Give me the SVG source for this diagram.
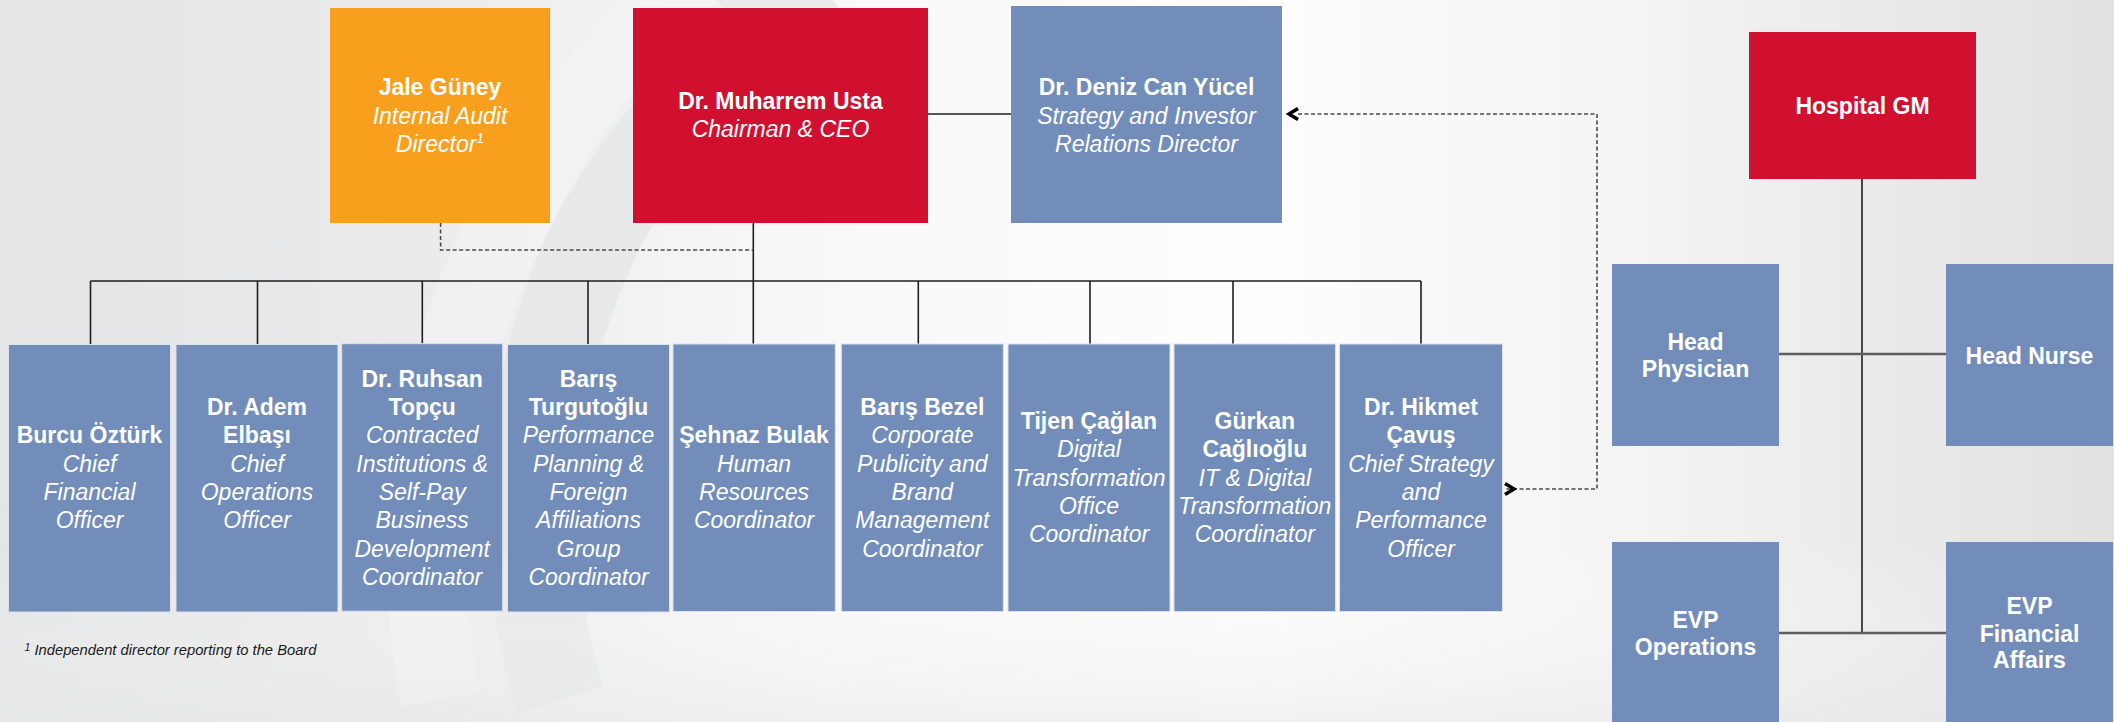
<svg xmlns="http://www.w3.org/2000/svg" width="2114" height="722" viewBox="0 0 2114 722">
  <defs>
    <linearGradient id="bg" x1="0" y1="0" x2="1" y2="0">
      <stop offset="0" stop-color="#e3e4e5"/>
      <stop offset="0.2" stop-color="#ebebec"/>
      <stop offset="0.4" stop-color="#f9f9f9"/>
      <stop offset="0.6" stop-color="#fdfdfd"/>
      <stop offset="0.78" stop-color="#f3f3f3"/>
      <stop offset="1" stop-color="#e1e1e1"/>
    </linearGradient>
    <linearGradient id="fade" x1="0" y1="0" x2="0" y2="1">
      <stop offset="0" stop-color="#ffffff" stop-opacity="0"/>
      <stop offset="0.75" stop-color="#ffffff" stop-opacity="0"/>
      <stop offset="1" stop-color="#e9e9e9" stop-opacity="0.6"/>
    </linearGradient>
    <marker id="chev" markerUnits="userSpaceOnUse" markerWidth="24" markerHeight="24" viewBox="-12 -12 24 24" refX="0" refY="0" orient="auto" overflow="visible">
      <path d="M0,-5.5 L-9,0 L0,5.5" fill="none" stroke="#000" stroke-width="3.5" stroke-dasharray="none"/>
    </marker>
    <style>
      .n { font-family: "Liberation Sans", Arial, sans-serif; font-weight: bold; font-size: 23px; fill: #ffffff; text-anchor: middle; }
      .t { font-family: "Liberation Sans", Arial, sans-serif; font-style: italic; font-size: 23px; fill: #ffffff; text-anchor: middle; }
      .blue { fill: #728db9; }
      .bb { fill: #728db9; stroke: #dbe2ee; stroke-width: 1; }
      .red { fill: #d11030; }
      .orange { fill: #f8a01e; }
      .ln { stroke: #1e1e1e; stroke-width: 1.6; fill: none; }
      .ln2 { stroke: #5e5e5e; stroke-width: 2.5; fill: none; }
      .dash { stroke: #4a4a4a; stroke-width: 1.6; fill: none; stroke-dasharray: 4 2.5; }
      .foot { font-family: "Liberation Sans", Arial, sans-serif; font-style: italic; font-size: 14px; fill: #1a1a1a; }
    </style>
  </defs>

  <!-- background -->
  <rect x="0" y="0" width="2114" height="722" fill="url(#bg)"/>
  <g id="watermark" fill="none">
    <path d="M 820 -20 A 640 640 0 0 0 560 700" stroke="#e4e5e6" stroke-width="90" stroke-opacity="0.75"/>
    <path d="M 700 -20 A 760 760 0 0 0 440 700" stroke="#f4f4f4" stroke-width="80" stroke-opacity="0.6"/>
  </g>
  <rect x="0" y="0" width="2114" height="722" fill="url(#fade)"/>

  <!-- connectors -->
  <g id="connectors">
    <line class="ln" x1="753.3" y1="223" x2="753.3" y2="281"/>
    <line class="ln" x1="90.5" y1="281" x2="1421" y2="281"/>
    <line class="ln" x1="90.5" y1="281" x2="90.5" y2="345"/>
    <line class="ln" x1="257.5" y1="281" x2="257.5" y2="345"/>
    <line class="ln" x1="422.3" y1="281" x2="422.3" y2="345"/>
    <line class="ln" x1="588" y1="281" x2="588" y2="345"/>
    <line class="ln" x1="753.3" y1="281" x2="753.3" y2="345"/>
    <line class="ln" x1="918.3" y1="281" x2="918.3" y2="345"/>
    <line class="ln" x1="1090" y1="281" x2="1090" y2="345"/>
    <line class="ln" x1="1233" y1="281" x2="1233" y2="345"/>
    <line class="ln" x1="1421" y1="281" x2="1421" y2="345"/>
    <line class="ln" x1="928" y1="114" x2="1011" y2="114" stroke-width="2.6"/>
    <path class="dash" d="M440.6,223 V250 H753.3"/>
    <path class="dash" d="M1298,114 H1597 V489 H1505" marker-start="url(#chev)" marker-end="url(#chev)"/>
    <line class="ln" x1="1862" y1="179" x2="1862" y2="633"/>
    <line class="ln2" x1="1779" y1="354" x2="1946" y2="354"/>
    <line class="ln2" x1="1779" y1="633" x2="1946" y2="633"/>
  </g>

  <!-- top row -->
  <g id="jale">
    <rect class="orange" x="330" y="8" width="220" height="215"/>
    <text class="n" x="440" y="95">Jale Güney</text>
    <text class="t" x="440" y="123.5">Internal Audit</text>
    <text class="t" x="440" y="152">Director<tspan font-size="14" dy="-9">1</tspan></text>
  </g>
  <g id="ceo">
    <rect class="red" x="633" y="8" width="295" height="215"/>
    <text class="n" x="780.5" y="109">Dr. Muharrem Usta</text>
    <text class="t" x="780.5" y="137">Chairman &amp; CEO</text>
  </g>
  <g id="deniz">
    <rect class="blue" x="1011" y="6" width="271" height="217"/>
    <text class="n" x="1146.5" y="95">Dr. Deniz Can Yücel</text>
    <text class="t" x="1146.5" y="123.5">Strategy and Investor</text>
    <text class="t" x="1146.5" y="152">Relations Director</text>
  </g>

  <!-- bottom row -->
  <g id="burcu">
    <rect class="bb" x="8.5" y="344.5" width="162" height="267.5"/>
    <text class="n" x="89.5" y="443.3">Burcu Öztürk</text>
    <text class="t" x="89.5" y="471.7">Chief</text>
    <text class="t" x="89.5" y="500">Financial</text>
    <text class="t" x="89.5" y="528.3">Officer</text>
  </g>
  <g id="adem">
    <rect class="bb" x="176" y="344.5" width="162" height="267.5"/>
    <text class="n" x="257" y="415">Dr. Adem</text>
    <text class="n" x="257" y="443.3">Elbaşı</text>
    <text class="t" x="257" y="471.7">Chief</text>
    <text class="t" x="257" y="500">Operations</text>
    <text class="t" x="257" y="528.3">Officer</text>
  </g>
  <g id="ruhsan">
    <rect class="bb" x="341.7" y="343.7" width="161" height="267.5"/>
    <text class="n" x="422.2" y="386.7">Dr. Ruhsan</text>
    <text class="n" x="422.2" y="415">Topçu</text>
    <text class="t" x="422.2" y="443.3">Contracted</text>
    <text class="t" x="422.2" y="471.7">Institutions &amp;</text>
    <text class="t" x="422.2" y="500">Self-Pay</text>
    <text class="t" x="422.2" y="528.3">Business</text>
    <text class="t" x="422.2" y="556.7">Development</text>
    <text class="t" x="422.2" y="585">Coordinator</text>
  </g>
  <g id="baris-t">
    <rect class="bb" x="507.5" y="344.5" width="162" height="267.5"/>
    <text class="n" x="588.5" y="386.7">Barış</text>
    <text class="n" x="588.5" y="415">Turgutoğlu</text>
    <text class="t" x="588.5" y="443.3">Performance</text>
    <text class="t" x="588.5" y="471.7">Planning &amp;</text>
    <text class="t" x="588.5" y="500">Foreign</text>
    <text class="t" x="588.5" y="528.3">Affiliations</text>
    <text class="t" x="588.5" y="556.7">Group</text>
    <text class="t" x="588.5" y="585">Coordinator</text>
  </g>
  <g id="sehnaz">
    <rect class="bb" x="673" y="344" width="162.3" height="267.5"/>
    <text class="n" x="754" y="443.3">Şehnaz Bulak</text>
    <text class="t" x="754" y="471.7">Human</text>
    <text class="t" x="754" y="500">Resources</text>
    <text class="t" x="754" y="528.3">Coordinator</text>
  </g>
  <g id="baris-b">
    <rect class="bb" x="841.3" y="344" width="162" height="267.5"/>
    <text class="n" x="922.3" y="415">Barış Bezel</text>
    <text class="t" x="922.3" y="443.3">Corporate</text>
    <text class="t" x="922.3" y="471.7">Publicity and</text>
    <text class="t" x="922.3" y="500">Brand</text>
    <text class="t" x="922.3" y="528.3">Management</text>
    <text class="t" x="922.3" y="556.7">Coordinator</text>
  </g>
  <g id="tijen">
    <rect class="bb" x="1008" y="344" width="162" height="267.5"/>
    <text class="n" x="1089" y="429">Tijen Çağlan</text>
    <text class="t" x="1089" y="457.3">Digital</text>
    <text class="t" x="1089" y="485.7">Transformation</text>
    <text class="t" x="1089" y="514">Office</text>
    <text class="t" x="1089" y="542.3">Coordinator</text>
  </g>
  <g id="gurkan">
    <rect class="bb" x="1174" y="344" width="161.6" height="267.5"/>
    <text class="n" x="1254.8" y="429">Gürkan</text>
    <text class="n" x="1254.8" y="457.3">Cağlıoğlu</text>
    <text class="t" x="1254.8" y="485.7">IT &amp; Digital</text>
    <text class="t" x="1254.8" y="514">Transformation</text>
    <text class="t" x="1254.8" y="542.3">Coordinator</text>
  </g>
  <g id="hikmet">
    <rect class="bb" x="1339.5" y="344" width="163" height="267.5"/>
    <text class="n" x="1421" y="415">Dr. Hikmet</text>
    <text class="n" x="1421" y="443.3">Çavuş</text>
    <text class="t" x="1421" y="471.7">Chief Strategy</text>
    <text class="t" x="1421" y="500">and</text>
    <text class="t" x="1421" y="528.3">Performance</text>
    <text class="t" x="1421" y="556.7">Officer</text>
  </g>

  <!-- hospital side -->
  <g id="hospital-gm">
    <rect class="red" x="1749" y="32" width="227" height="147"/>
    <text class="n" x="1862.5" y="114">Hospital GM</text>
  </g>
  <g id="head-physician">
    <rect class="blue" x="1612" y="264" width="167" height="182"/>
    <text class="n" x="1695.5" y="350">Head</text>
    <text class="n" x="1695.5" y="377">Physician</text>
  </g>
  <g id="head-nurse">
    <rect class="blue" x="1946" y="264" width="167" height="182"/>
    <text class="n" x="2029.5" y="363.5">Head Nurse</text>
  </g>
  <g id="evp-operations">
    <rect class="blue" x="1612" y="542" width="167" height="182"/>
    <text class="n" x="1695.5" y="627.7">EVP</text>
    <text class="n" x="1695.5" y="655">Operations</text>
  </g>
  <g id="evp-financial">
    <rect class="blue" x="1946" y="542" width="167" height="182"/>
    <text class="n" x="2029.5" y="614.3">EVP</text>
    <text class="n" x="2029.5" y="641.7">Financial</text>
    <text class="n" x="2029.5" y="668.3">Affairs</text>
  </g>

  <!-- footnote -->
  <text class="foot" x="24.5" y="655" textLength="292" lengthAdjust="spacingAndGlyphs"><tspan font-size="10" dy="-4">1</tspan><tspan dy="4"> Independent director reporting to the Board</tspan></text>
</svg>
